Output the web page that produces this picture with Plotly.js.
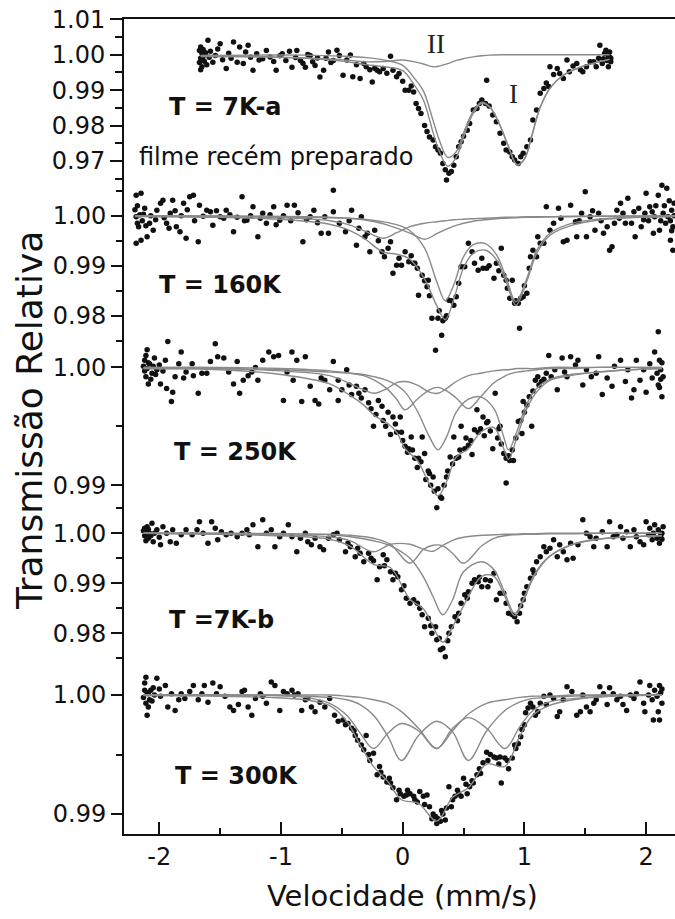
<!DOCTYPE html>
<html>
<head>
<meta charset="utf-8">
<script src="https://cdn.plot.ly/plotly-3.0.1.min.js"></script>
<style>
  html, body { margin: 0; padding: 0; background: #ffffff; }
  #chart { width: 675px; height: 919px; }
</style>
</head>
<body>
<div id="chart"></div>
<script>
// Mössbauer spectra of the film, stacked: each spectrum has its own
// transmission scale on the shared left axis. Points are [velocity, transmission].

// ---- T = 7K-a (freshly prepared film) ----
const points7Ka = [[-1.67,1.0012],[-1.67,0.9978],[-1.66,0.9958],[-1.66,1.0022],[-1.66,0.9990],[-1.65,1.0004],[-1.65,0.9966],[-1.64,0.9995],[-1.64,1.0015],[-1.63,0.9982],[-1.62,1.0006],[-1.61,0.9972],[-1.60,1.0041],[-1.59,0.9993],[-1.58,1.0010],[-1.56,0.9979],[-1.54,0.9998],[-1.52,1.0016],[-1.50,1.0031],[-1.48,0.9986],[-1.45,0.9961],[-1.43,1.0004],[-1.41,0.9990],[-1.39,1.0036],[-1.36,0.9979],[-1.34,1.0022],[-1.31,0.9975],[-1.29,1.0008],[-1.27,1.0027],[-1.25,0.9993],[-1.23,0.9956],[-1.20,1.0003],[-1.18,0.9985],[-1.15,0.9989],[-1.12,1.0012],[-1.09,0.9994],[-1.06,0.9981],[-1.04,0.9956],[-1.01,0.9997],[-0.99,1.0003],[-0.96,0.9984],[-0.93,1.0010],[-0.91,0.9965],[-0.88,0.9992],[-0.87,1.0012],[-0.84,0.9984],[-0.82,0.9976],[-0.80,0.9965],[-0.78,1.0001],[-0.76,0.9998],[-0.74,0.9980],[-0.72,0.9970],[-0.70,0.9991],[-0.68,0.9937],[-0.65,0.9956],[-0.63,0.9990],[-0.61,1.0008],[-0.59,0.9978],[-0.57,0.9984],[-0.54,1.0013],[-0.52,0.9998],[-0.49,0.9942],[-0.46,0.9985],[-0.43,0.9999],[-0.41,0.9938],[-0.38,0.9972],[-0.35,0.9933],[-0.32,0.9975],[-0.30,0.9966],[-0.27,0.9958],[-0.25,0.9923],[-0.23,0.9962],[-0.21,0.9956],[-0.19,0.9952],[-0.16,0.9961],[-0.13,0.9948],[-0.10,0.9996],[-0.08,0.9956],[-0.05,0.9938],[-0.03,0.9947],[0.00,0.9925],[0.02,0.9900],[0.05,0.9900],[0.07,0.9912],[0.09,0.9895],[0.11,0.9862],[0.13,0.9848],[0.15,0.9834],[0.18,0.9800],[0.20,0.9783],[0.22,0.9768],[0.25,0.9759],[0.27,0.9740],[0.29,0.9731],[0.31,0.9722],[0.33,0.9693],[0.35,0.9675],[0.36,0.9646],[0.38,0.9665],[0.40,0.9670],[0.42,0.9688],[0.44,0.9712],[0.46,0.9740],[0.48,0.9754],[0.50,0.9770],[0.53,0.9787],[0.55,0.9806],[0.58,0.9844],[0.61,0.9848],[0.63,0.9862],[0.65,0.9872],[0.68,0.9862],[0.69,0.9928],[0.71,0.9855],[0.74,0.9830],[0.77,0.9811],[0.80,0.9778],[0.83,0.9750],[0.85,0.9731],[0.88,0.9725],[0.90,0.9712],[0.92,0.9703],[0.95,0.9693],[0.97,0.9712],[0.99,0.9722],[1.02,0.9740],[1.05,0.9759],[1.07,0.9816],[1.10,0.9844],[1.13,0.9891],[1.16,0.9905],[1.18,0.9920],[1.20,0.9910],[1.21,0.9966],[1.24,0.9944],[1.27,0.9961],[1.29,0.9947],[1.32,0.9933],[1.35,0.9985],[1.37,0.9952],[1.40,0.9968],[1.43,0.9975],[1.46,0.9958],[1.48,0.9952],[1.51,0.9966],[1.54,0.9980],[1.57,0.9980],[1.59,0.9966],[1.61,0.9990],[1.62,1.0027],[1.64,0.9975],[1.65,0.9989],[1.66,1.0004],[1.67,1.0013],[1.68,0.9984],[1.69,0.9966],[1.69,0.9996],[1.70,0.9994],[1.70,1.0008],[1.71,0.9980],[1.71,0.9990]];
const fitVel7Ka     = [-1.66,-1.2,-0.8,-0.5,-0.3,-0.15,0,0.1,0.17,0.25,0.3,0.37,0.44,0.5,0.58,0.65,0.72,0.8,0.87,0.94,1.0,1.06,1.13,1.22,1.32,1.46,1.6,1.7];
const fitTotal7Ka   = [0.9995,0.9994,0.9990,0.9982,0.9972,0.9966,0.9955,0.9912,0.9872,0.9780,0.9728,0.9685,0.9710,0.9768,0.9835,0.9863,0.9850,0.9800,0.9740,0.9689,0.9705,0.9770,0.9852,0.9910,0.9942,0.9965,0.9979,0.9987];
const fitSiteI7Ka   = [0.9998,0.9999,0.9999,0.9996,0.9992,0.9985,0.9970,0.9932,0.9898,0.9814,0.9760,0.9710,0.9726,0.9779,0.9841,0.9866,0.9851,0.9800,0.9740,0.9689,0.9705,0.9770,0.9852,0.9910,0.9942,0.9965,0.9979,0.9987];
const fitSiteII7Ka  = [0.9997,0.9995,0.9991,0.9986,0.9980,0.9981,0.9985,0.9980,0.9974,0.9966,0.9968,0.9975,0.9984,0.9989,0.9994,0.9997,0.9999,1.0,1.0,1.0,1.0,1.0,1.0,1.0,1.0,1.0,1.0,1.0];

// ---- T = 160K ----
const points160 = [[-2.20,1.0012],[-2.19,1.0041],[-2.19,0.9998],[-2.19,0.9945],[-2.18,1.0020],[-2.18,0.9985],[-2.17,0.9978],[-2.16,1.0002],[-2.15,1.0045],[-2.15,0.9951],[-2.14,0.9990],[-2.13,1.0003],[-2.12,1.0015],[-2.11,0.9980],[-2.10,0.9958],[-2.08,0.9985],[-2.07,1.0000],[-2.05,0.9971],[-2.03,0.9992],[-2.02,1.0011],[-1.99,1.0025],[-1.97,1.0031],[-1.96,0.9996],[-1.94,0.9985],[-1.92,0.9975],[-1.91,1.0005],[-1.89,1.0031],[-1.87,1.0010],[-1.86,0.9978],[-1.83,0.9968],[-1.82,1.0000],[-1.80,1.0025],[-1.78,0.9955],[-1.77,1.0012],[-1.75,1.0038],[-1.72,1.0041],[-1.71,0.9990],[-1.68,0.9948],[-1.67,1.0021],[-1.64,0.9999],[-1.61,1.0011],[-1.58,1.0008],[-1.56,0.9981],[-1.53,1.0010],[-1.50,0.9998],[-1.47,0.9995],[-1.45,1.0011],[-1.42,1.0002],[-1.39,0.9968],[-1.36,0.9997],[-1.32,1.0038],[-1.30,0.9990],[-1.28,0.9991],[-1.25,1.0000],[-1.23,1.0018],[-1.19,0.9958],[-1.17,0.9995],[-1.15,1.0005],[-1.12,0.9985],[-1.09,1.0002],[-1.06,1.0018],[-1.04,0.9982],[-1.01,0.9991],[-0.98,1.0000],[-0.95,1.0021],[-0.92,0.9990],[-0.89,1.0021],[-0.86,1.0006],[-0.82,0.9948],[-0.79,0.9992],[-0.76,0.9998],[-0.73,1.0011],[-0.70,0.9986],[-0.67,0.9965],[-0.64,0.9998],[-0.61,0.9965],[-0.57,1.0051],[-0.57,1.0008],[-0.52,0.9985],[-0.47,0.9968],[-0.44,0.9990],[-0.42,1.0011],[-0.38,0.9941],[-0.36,0.9975],[-0.34,0.9998],[-0.31,0.9958],[-0.29,0.9965],[-0.27,0.9928],[-0.23,0.9971],[-0.20,0.9950],[-0.17,0.9928],[-0.15,0.9918],[-0.12,0.9935],[-0.10,0.9948],[-0.08,0.9885],[-0.05,0.9901],[-0.03,0.9915],[-0.01,0.9901],[0.02,0.9928],[0.05,0.9908],[0.07,0.9920],[0.09,0.9905],[0.10,0.9905],[0.12,0.9895],[0.13,0.9841],[0.16,0.9881],[0.18,0.9870],[0.20,0.9858],[0.21,0.9871],[0.22,0.9840],[0.24,0.9795],[0.27,0.9731],[0.29,0.9795],[0.30,0.9810],[0.32,0.9761],[0.33,0.9790],[0.35,0.9795],[0.36,0.9800],[0.38,0.9831],[0.40,0.9830],[0.42,0.9821],[0.44,0.9838],[0.46,0.9865],[0.48,0.9898],[0.51,0.9898],[0.54,0.9945],[0.57,0.9928],[0.59,0.9905],[0.62,0.9891],[0.65,0.9915],[0.66,0.9895],[0.69,0.9895],[0.71,0.9900],[0.75,0.9875],[0.77,0.9905],[0.79,0.9890],[0.81,0.9935],[0.83,0.9881],[0.85,0.9871],[0.86,0.9855],[0.88,0.9835],[0.90,0.9871],[0.92,0.9825],[0.93,0.9830],[0.95,0.9825],[0.96,0.9775],[0.97,0.9835],[0.99,0.9838],[1.00,0.9860],[1.02,0.9845],[1.04,0.9895],[1.05,0.9918],[1.07,0.9931],[1.10,0.9918],[1.11,0.9958],[1.13,0.9945],[1.16,0.9945],[1.18,1.0018],[1.21,0.9971],[1.24,0.9985],[1.28,1.0015],[1.30,0.9995],[1.32,0.9948],[1.35,0.9951],[1.38,1.0021],[1.42,0.9988],[1.43,0.9958],[1.45,0.9990],[1.47,1.0005],[1.50,1.0048],[1.51,0.9958],[1.54,0.9998],[1.56,1.0010],[1.58,0.9971],[1.61,1.0005],[1.63,0.9990],[1.65,0.9965],[1.68,0.9978],[1.70,0.9931],[1.72,0.9938],[1.74,0.9985],[1.76,1.0011],[1.78,0.9995],[1.79,1.0025],[1.81,1.0005],[1.83,0.9985],[1.85,1.0035],[1.88,0.9985],[1.90,1.0008],[1.91,0.9958],[1.94,1.0015],[1.96,0.9978],[1.98,0.9992],[1.99,1.0005],[2.00,1.0045],[2.02,0.9990],[2.03,1.0018],[2.05,1.0008],[2.06,0.9965],[2.07,0.9998],[2.08,1.0020],[2.10,1.0041],[2.10,0.9768],[2.11,0.9971],[2.12,0.9990],[2.13,1.0061],[2.14,1.0005],[2.15,1.0020],[2.16,0.9985],[2.17,1.0055],[2.18,0.9998],[2.19,1.0030],[2.20,0.9951],[2.20,0.9990],[2.21,1.0011],[2.21,0.9970],[2.22,0.9931],[2.22,0.9978],[2.23,1.0000],[2.23,1.0025]];
const fitVel160     = [-2.2,-1.6,-1.1,-0.8,-0.6,-0.46,-0.32,-0.16,-0.05,0.06,0.18,0.28,0.35,0.42,0.50,0.58,0.68,0.77,0.85,0.93,1.02,1.10,1.21,1.38,1.6,1.87,2.24];
const fitTotal160   = [0.99985,0.9997,0.9994,0.9989,0.9983,0.9973,0.9955,0.9927,0.9923,0.9913,0.9873,0.9820,0.9792,0.9833,0.9896,0.9925,0.9931,0.9912,0.9868,0.9821,0.9869,0.9924,0.9961,0.9980,0.9991,0.9996,0.9999];
const fitSiteI160   = [0.99995,0.9999,0.9998,0.9997,0.9996,0.9995,0.9993,0.9988,0.9982,0.9970,0.9935,0.9868,0.9830,0.9862,0.9918,0.9942,0.9944,0.9922,0.9876,0.9828,0.9875,0.9930,0.9965,0.9984,0.9993,0.9997,0.99985];
const fitSiteA160   = [0.99995,0.9999,0.9997,0.9994,0.9990,0.9983,0.9970,0.9955,0.9966,0.9978,0.9985,0.9988,0.9990,0.9992,0.9993,0.9994,0.9995,0.9996,0.9997,0.9997,0.9998,0.9998,0.9998,0.9999,0.9999,0.9999,1.0];
const fitSiteB160   = [1.0,0.99995,0.9999,0.9998,0.9997,0.9995,0.9992,0.9984,0.9975,0.9965,0.9953,0.9964,0.9972,0.9979,0.9985,0.9989,0.9992,0.9994,0.9995,0.9996,0.9997,0.9997,0.9998,0.9998,0.9999,0.99995,1.0];

// ---- T = 250K ----
const points250 = [[-2.13,1.0001],[-2.12,0.9997],[-2.12,1.0006],[-2.11,0.9992],[-2.11,1.0010],[-2.10,1.0015],[-2.10,0.9999],[-2.09,0.9986],[-2.09,1.0004],[-2.08,1.0003],[-2.07,0.9990],[-2.06,0.9995],[-2.05,1.0001],[-2.04,1.0008],[-2.03,0.9994],[-2.02,0.9998],[-2.00,1.0002],[-1.99,0.9986],[-1.97,0.9997],[-1.95,1.0006],[-1.94,0.9982],[-1.93,1.0022],[-1.90,0.9971],[-1.89,0.9979],[-1.87,0.9992],[-1.84,1.0003],[-1.82,1.0013],[-1.80,0.9991],[-1.78,0.9996],[-1.73,1.0003],[-1.72,0.9993],[-1.68,0.9978],[-1.65,0.9995],[-1.61,0.9995],[-1.58,1.0005],[-1.54,1.0020],[-1.52,1.0009],[-1.47,1.0008],[-1.43,0.9996],[-1.39,0.9986],[-1.36,1.0005],[-1.34,0.9978],[-1.31,0.9989],[-1.27,0.9993],[-1.24,0.9996],[-1.21,1.0000],[-1.19,0.9989],[-1.15,1.0006],[-1.10,1.0013],[-1.06,1.0009],[-1.02,1.0010],[-0.98,0.9972],[-0.95,0.9996],[-0.91,1.0013],[-0.90,0.9989],[-0.87,1.0006],[-0.83,0.9971],[-0.80,1.0009],[-0.76,0.9984],[-0.72,0.9972],[-0.69,0.9969],[-0.67,0.9991],[-0.64,0.9989],[-0.60,0.9981],[-0.57,1.0005],[-0.53,0.9972],[-0.53,0.9989],[-0.50,0.9981],[-0.46,0.9998],[-0.44,0.9985],[-0.42,0.9977],[-0.38,0.9984],[-0.36,0.9978],[-0.34,0.9974],[-0.31,0.9981],[-0.28,0.9970],[-0.26,0.9965],[-0.24,0.9950],[-0.22,0.9960],[-0.20,0.9972],[-0.17,0.9967],[-0.16,0.9955],[-0.14,0.9950],[-0.12,0.9962],[-0.10,0.9943],[-0.08,0.9958],[-0.06,0.9952],[-0.05,0.9945],[-0.02,0.9958],[-0.01,0.9945],[0.00,0.9938],[0.02,0.9933],[0.04,0.9928],[0.05,0.9931],[0.07,0.9941],[0.08,0.9930],[0.10,0.9923],[0.12,0.9915],[0.13,0.9923],[0.15,0.9920],[0.16,0.9941],[0.18,0.9927],[0.19,0.9905],[0.21,0.9912],[0.22,0.9910],[0.23,0.9900],[0.25,0.9907],[0.26,0.9895],[0.28,0.9881],[0.29,0.9897],[0.31,0.9890],[0.32,0.9889],[0.34,0.9900],[0.36,0.9907],[0.37,0.9912],[0.39,0.9924],[0.41,0.9918],[0.42,0.9941],[0.44,0.9923],[0.46,0.9924],[0.47,0.9930],[0.48,0.9950],[0.51,0.9931],[0.52,0.9940],[0.54,0.9934],[0.56,0.9938],[0.57,0.9926],[0.59,0.9947],[0.61,0.9964],[0.62,0.9945],[0.64,0.9948],[0.66,0.9958],[0.67,0.9942],[0.69,0.9953],[0.70,0.9954],[0.72,0.9946],[0.74,0.9931],[0.76,0.9978],[0.78,0.9940],[0.79,0.9948],[0.80,0.9950],[0.81,0.9935],[0.83,0.9927],[0.85,0.9923],[0.85,0.9902],[0.87,0.9925],[0.88,0.9921],[0.90,0.9930],[0.91,0.9921],[0.93,0.9940],[0.95,0.9954],[0.97,0.9955],[0.98,0.9944],[0.99,0.9971],[1.00,0.9962],[1.02,0.9968],[1.04,0.9975],[1.06,0.9950],[1.07,0.9980],[1.09,0.9989],[1.11,0.9992],[1.12,0.9985],[1.14,0.9988],[1.16,0.9990],[1.18,0.9995],[1.20,1.0010],[1.22,0.9992],[1.25,0.9998],[1.27,0.9981],[1.31,1.0008],[1.33,0.9996],[1.35,0.9992],[1.38,1.0009],[1.42,1.0002],[1.44,1.0006],[1.48,0.9985],[1.51,0.9998],[1.55,0.9992],[1.59,0.9995],[1.61,1.0009],[1.64,0.9977],[1.68,0.9991],[1.72,0.9984],[1.74,1.0001],[1.79,1.0006],[1.83,0.9988],[1.85,0.9998],[1.88,0.9974],[1.90,0.9981],[1.92,1.0006],[1.95,0.9989],[1.98,0.9998],[2.00,0.9979],[2.03,1.0003],[2.05,0.9991],[2.07,1.0013],[2.09,0.9995],[2.10,0.9985],[2.11,1.0006],[2.11,0.9983],[2.12,0.9998],[2.12,0.9990],[2.13,0.9975],[2.13,1.0004],[2.14,0.9992]];
const fitVel250      = [-2.13,-1.5,-1.0,-0.6,-0.43,-0.32,-0.23,-0.13,-0.05,0.02,0.12,0.22,0.29,0.36,0.44,0.54,0.64,0.75,0.83,0.87,0.94,1.02,1.10,1.21,1.38,1.6,1.87,2.13];
const fitTotal250    = [0.9999,0.9998,0.9994,0.9986,0.9976,0.9968,0.9959,0.9953,0.9945,0.9931,0.9921,0.9901,0.9891,0.9903,0.9924,0.9931,0.9945,0.9949,0.9931,0.9922,0.9941,0.9965,0.9979,0.9989,0.9993,0.9996,0.9998,0.9999];
const fitSiteI250    = [0.9999,0.9999,0.9998,0.9996,0.9995,0.9994,0.9992,0.9989,0.9985,0.9979,0.9963,0.9941,0.9930,0.9941,0.9962,0.9973,0.9975,0.9965,0.9941,0.9930,0.9946,0.9969,0.9982,0.9990,0.9994,0.9996,0.9998,0.9999];
const fitSiteII250   = [1.0,1.0,0.9999,0.9997,0.9995,0.9993,0.9989,0.9982,0.9973,0.9964,0.9973,0.9981,0.9983,0.9980,0.9974,0.9965,0.9975,0.9987,0.9992,0.9994,0.9996,0.9997,0.9998,0.9999,0.9999,1.0,1.0,1.0];
const fitSiteIII250  = [1.0,0.9999,0.9997,0.9993,0.9986,0.9981,0.9978,0.9982,0.9987,0.9988,0.9985,0.9979,0.9978,0.9982,0.9988,0.9993,0.9995,0.9997,0.9998,0.9998,0.9999,0.9999,0.9999,1.0,1.0,1.0,1.0,1.0];

// ---- T = 7K-b ----
const points7Kb = [[-2.13,1.0005],[-2.12,0.9995],[-2.12,1.0010],[-2.11,0.9985],[-2.11,1.0002],[-2.10,1.0013],[-2.10,0.9993],[-2.09,0.9990],[-2.09,1.0008],[-2.08,1.0000],[-2.07,0.9995],[-2.06,1.0020],[-2.05,0.9983],[-2.04,1.0000],[-2.02,1.0007],[-2.00,0.9992],[-1.99,0.9977],[-1.97,1.0013],[-1.94,1.0000],[-1.91,0.9983],[-1.89,1.0007],[-1.86,0.9980],[-1.82,0.9997],[-1.78,1.0007],[-1.73,0.9997],[-1.69,1.0007],[-1.67,1.0023],[-1.64,1.0000],[-1.60,0.9980],[-1.57,1.0023],[-1.54,1.0010],[-1.52,0.9987],[-1.49,1.0003],[-1.45,0.9997],[-1.41,1.0000],[-1.36,0.9993],[-1.32,1.0000],[-1.28,1.0007],[-1.26,0.9997],[-1.23,1.0017],[-1.19,0.9973],[-1.15,1.0027],[-1.12,1.0000],[-1.08,1.0007],[-1.05,0.9973],[-1.01,0.9993],[-0.98,1.0000],[-0.94,1.0017],[-0.91,0.9993],[-0.87,0.9963],[-0.84,0.9990],[-0.80,1.0000],[-0.78,0.9983],[-0.75,0.9977],[-0.72,0.9990],[-0.68,0.9973],[-0.65,0.9967],[-0.61,0.9990],[-0.57,0.9997],[-0.54,1.0000],[-0.52,0.9987],[-0.47,0.9963],[-0.45,0.9980],[-0.43,0.9973],[-0.39,0.9953],[-0.37,0.9970],[-0.35,0.9960],[-0.32,0.9943],[-0.28,0.9960],[-0.26,0.9950],[-0.24,0.9945],[-0.21,0.9907],[-0.19,0.9933],[-0.16,0.9957],[-0.15,0.9935],[-0.13,0.9947],[-0.10,0.9923],[-0.08,0.9907],[-0.06,0.9920],[-0.04,0.9913],[-0.01,0.9887],[0.01,0.9895],[0.03,0.9870],[0.06,0.9860],[0.09,0.9867],[0.12,0.9860],[0.14,0.9850],[0.16,0.9837],[0.18,0.9813],[0.21,0.9830],[0.23,0.9815],[0.24,0.9800],[0.27,0.9813],[0.28,0.9787],[0.30,0.9790],[0.31,0.9767],[0.33,0.9770],[0.35,0.9753],[0.37,0.9785],[0.38,0.9800],[0.40,0.9813],[0.43,0.9833],[0.45,0.9825],[0.46,0.9840],[0.48,0.9860],[0.51,0.9877],[0.53,0.9870],[0.54,0.9883],[0.57,0.9900],[0.59,0.9907],[0.62,0.9903],[0.63,0.9912],[0.65,0.9893],[0.68,0.9907],[0.70,0.9893],[0.72,0.9905],[0.75,0.9920],[0.77,0.9867],[0.80,0.9880],[0.83,0.9880],[0.85,0.9860],[0.87,0.9840],[0.90,0.9837],[0.92,0.9833],[0.94,0.9823],[0.96,0.9840],[0.97,0.9855],[0.99,0.9867],[1.00,0.9880],[1.02,0.9893],[1.05,0.9910],[1.07,0.9927],[1.08,0.9920],[1.10,0.9943],[1.13,0.9953],[1.16,0.9973],[1.18,0.9963],[1.21,0.9970],[1.24,0.9987],[1.27,0.9953],[1.29,0.9977],[1.32,0.9963],[1.35,0.9947],[1.38,0.9980],[1.40,0.9950],[1.44,0.9977],[1.48,1.0027],[1.51,1.0000],[1.54,0.9993],[1.57,0.9973],[1.59,0.9990],[1.64,1.0003],[1.68,0.9973],[1.70,1.0023],[1.73,0.9993],[1.76,0.9997],[1.79,1.0013],[1.81,0.9990],[1.84,1.0003],[1.87,0.9973],[1.90,1.0007],[1.92,0.9993],[1.95,0.9983],[1.98,0.9977],[2.00,1.0023],[2.02,0.9997],[2.03,1.0010],[2.05,0.9987],[2.06,1.0000],[2.07,1.0017],[2.09,0.9990],[2.10,1.0007],[2.11,0.9980],[2.12,0.9995],[2.13,1.0000],[2.13,0.9988],[2.14,1.0013]];
const fitVel7Kb      = [-2.13,-1.5,-1.0,-0.6,-0.43,-0.24,-0.1,0.06,0.17,0.25,0.33,0.41,0.50,0.65,0.75,0.84,0.92,1.0,1.08,1.2,1.38,1.6,1.87,2.13];
const fitTotal7Kb    = [1.0,0.9998,0.9995,0.9988,0.9974,0.9938,0.9931,0.9868,0.9849,0.9813,0.9782,0.9813,0.9855,0.9914,0.9914,0.9873,0.9835,0.9870,0.9914,0.9952,0.9976,0.9988,0.9993,0.9995];
const fitSiteI7Kb    = [1.0,0.99995,0.9999,0.9997,0.9993,0.9985,0.9975,0.9950,0.9913,0.9873,0.9837,0.9867,0.9923,0.9943,0.9927,0.9880,0.9840,0.9873,0.9917,0.9953,0.9977,0.9988,0.9993,0.9995];
const fitSiteII7Kb   = [1.0,1.0,0.99995,0.9998,0.9996,0.9990,0.9978,0.9940,0.9968,0.9976,0.9975,0.9960,0.9940,0.9975,0.9990,0.9995,0.9997,0.9998,0.9998,0.9999,0.9999,1.0,1.0,1.0];
const fitSiteIII7Kb  = [1.0,0.9999,0.9997,0.9993,0.9985,0.9963,0.9978,0.9978,0.9968,0.9964,0.9976,0.9986,0.9992,0.9996,0.9997,0.9998,0.9998,0.9999,0.9999,1.0,1.0,1.0,1.0,1.0];

// ---- T = 300K ----
const points300 = [[-2.13,0.9998],[-2.12,1.0010],[-2.12,1.0004],[-2.11,0.9993],[-2.11,1.0015],[-2.10,0.9983],[-2.10,1.0002],[-2.09,1.0001],[-2.09,0.9990],[-2.08,0.9996],[-2.07,1.0004],[-2.06,0.9995],[-2.05,1.0006],[-2.04,1.0000],[-2.02,1.0014],[-2.00,1.0005],[-1.99,0.9999],[-1.95,1.0008],[-1.93,0.9990],[-1.90,1.0001],[-1.87,0.9987],[-1.84,0.9996],[-1.82,1.0001],[-1.79,0.9997],[-1.75,1.0003],[-1.72,1.0008],[-1.68,0.9996],[-1.65,1.0001],[-1.63,1.0008],[-1.60,0.9994],[-1.56,1.0010],[-1.53,1.0001],[-1.50,1.0007],[-1.46,0.9999],[-1.42,0.9990],[-1.39,0.9987],[-1.35,0.9992],[-1.32,1.0003],[-1.30,1.0004],[-1.27,0.9990],[-1.24,0.9983],[-1.21,0.9997],[-1.17,1.0001],[-1.15,0.9999],[-1.12,0.9993],[-1.08,1.0011],[-1.05,1.0008],[-1.01,0.9987],[-0.98,1.0003],[-0.95,1.0001],[-0.91,1.0004],[-0.89,1.0000],[-0.86,1.0001],[-0.83,0.9987],[-0.80,0.9996],[-0.78,0.9997],[-0.75,0.9990],[-0.72,0.9986],[-0.68,0.9994],[-0.64,0.9990],[-0.60,0.9997],[-0.56,0.9983],[-0.53,0.9978],[-0.49,0.9979],[-0.47,0.9975],[-0.45,0.9976],[-0.42,0.9972],[-0.40,0.9970],[-0.39,0.9966],[-0.37,0.9962],[-0.34,0.9958],[-0.32,0.9954],[-0.30,0.9966],[-0.28,0.9950],[-0.27,0.9945],[-0.24,0.9951],[-0.21,0.9933],[-0.19,0.9940],[-0.18,0.9935],[-0.16,0.9931],[-0.13,0.9927],[-0.11,0.9930],[-0.10,0.9926],[-0.08,0.9922],[-0.05,0.9912],[-0.03,0.9920],[-0.02,0.9917],[0.01,0.9915],[0.03,0.9916],[0.04,0.9920],[0.06,0.9917],[0.09,0.9915],[0.10,0.9912],[0.12,0.9910],[0.14,0.9919],[0.17,0.9915],[0.18,0.9908],[0.20,0.9916],[0.22,0.9906],[0.24,0.9896],[0.25,0.9900],[0.27,0.9898],[0.28,0.9892],[0.29,0.9896],[0.31,0.9894],[0.32,0.9903],[0.33,0.9900],[0.35,0.9895],[0.36,0.9905],[0.38,0.9923],[0.40,0.9906],[0.41,0.9912],[0.43,0.9915],[0.45,0.9920],[0.46,0.9917],[0.48,0.9915],[0.50,0.9930],[0.52,0.9925],[0.53,0.9917],[0.55,0.9923],[0.57,0.9928],[0.58,0.9926],[0.61,0.9933],[0.63,0.9938],[0.64,0.9934],[0.66,0.9943],[0.69,0.9952],[0.70,0.9945],[0.72,0.9950],[0.75,0.9948],[0.77,0.9947],[0.79,0.9942],[0.80,0.9948],[0.81,0.9926],[0.84,0.9947],[0.86,0.9945],[0.87,0.9938],[0.90,0.9947],[0.92,0.9958],[0.93,0.9955],[0.95,0.9959],[0.97,0.9965],[0.98,0.9971],[1.00,0.9975],[1.01,0.9985],[1.03,0.9989],[1.05,0.9993],[1.07,0.9990],[1.09,0.9983],[1.11,0.9986],[1.13,0.9993],[1.16,0.9999],[1.18,0.9992],[1.21,1.0000],[1.24,0.9997],[1.27,0.9982],[1.29,0.9986],[1.32,0.9996],[1.35,1.0007],[1.39,1.0003],[1.43,0.9983],[1.46,0.9986],[1.48,1.0000],[1.51,0.9990],[1.54,0.9986],[1.57,0.9993],[1.59,0.9996],[1.62,1.0007],[1.65,1.0001],[1.68,0.9992],[1.70,1.0006],[1.73,1.0001],[1.76,0.9996],[1.79,0.9999],[1.81,0.9992],[1.84,0.9987],[1.87,1.0000],[1.90,0.9997],[1.92,1.0001],[1.95,1.0011],[1.98,0.9993],[1.99,0.9986],[2.02,1.0000],[2.03,1.0008],[2.05,0.9996],[2.06,0.9979],[2.07,1.0004],[2.09,0.9999],[2.10,0.9986],[2.11,1.0008],[2.11,0.9979],[2.12,1.0002],[2.13,0.9993],[2.13,1.0005]];
const fitVel300      = [-2.13,-1.5,-1.1,-0.8,-0.6,-0.46,-0.35,-0.24,-0.12,-0.01,0.13,0.28,0.41,0.54,0.69,0.84,0.96,1.06,1.2,1.4,1.7,2.13];
const fitTotal300    = [0.99995,0.9999,0.9998,0.9996,0.9991,0.9978,0.9958,0.9940,0.9927,0.9912,0.9909,0.9894,0.9914,0.9922,0.9942,0.9940,0.9965,0.9982,0.9991,0.9996,0.9999,1.0];
const fitSiteA300    = [1.0,1.0,0.99995,0.9998,0.9993,0.9983,0.9968,0.9955,0.9968,0.9976,0.9970,0.9955,0.9970,0.9984,0.9993,0.9996,0.9998,0.9999,0.9999,1.0,1.0,1.0];
const fitSiteB300    = [1.0,1.0,1.0,0.9999,0.9998,0.9996,0.9992,0.9983,0.9965,0.9945,0.9966,0.9978,0.9969,0.9945,0.9970,0.9987,0.9994,0.9997,0.9998,0.9999,1.0,1.0];
const fitSiteC300    = [1.0,1.0,1.0,1.0,1.0,0.9999,0.9998,0.9996,0.9993,0.9986,0.9972,0.9955,0.9972,0.9981,0.9972,0.9955,0.9973,0.9986,0.9994,0.9997,0.9999,1.0];

// Tick values of each stacked scale
const ticks7Ka  = [1.01, 1.00, 0.99, 0.98, 0.97];
const minor7Ka  = [1.005, 0.995, 0.985, 0.975, 0.965];
const ticks160  = [1.00, 0.99, 0.98];
const minor160  = [1.005, 0.995, 0.985, 0.975];
const ticks250  = [1.00, 0.99];
const minor250  = [0.995];
const ticks7Kb  = [1.00, 0.99, 0.98];
const minor7Kb  = [1.005, 0.995, 0.985, 0.975];
const ticks300  = [1.00, 0.99];
const minor300  = [0.995];
const velTicks  = [-2, -1, 0, 1, 2];
const velLabels = ['-2', '-1', '0', '1', '2'];
const velMinor  = [-1.5, -0.5, 0.5, 1.5];

const INK = '#111111';
const FIT = '#8a8a8a';
const FONT = 'DejaVu Sans, Arial, sans-serif';

function dots(points, yaxis) {
  return {
    type: 'scatter', mode: 'markers', yaxis: yaxis,
    x: points.map(p => p[0]), y: points.map(p => p[1]),
    marker: { size: 5.5, color: INK },
    hoverinfo: 'skip', showlegend: false
  };
}
function curve(xs, ys, yaxis) {
  return {
    type: 'scatter', mode: 'lines', yaxis: yaxis, x: xs, y: ys,
    line: { color: FIT, width: 1.4, shape: 'spline', smoothing: 1 },
    hoverinfo: 'skip', showlegend: false
  };
}

const traces = [
  dots(points7Ka, 'y'),
  curve(fitVel7Ka, fitSiteII7Ka, 'y'),
  curve(fitVel7Ka, fitSiteI7Ka, 'y'),
  curve(fitVel7Ka, fitTotal7Ka, 'y'),

  dots(points160, 'y2'),
  curve(fitVel160, fitSiteA160, 'y2'),
  curve(fitVel160, fitSiteB160, 'y2'),
  curve(fitVel160, fitSiteI160, 'y2'),
  curve(fitVel160, fitTotal160, 'y2'),

  dots(points250, 'y3'),
  curve(fitVel250, fitSiteIII250, 'y3'),
  curve(fitVel250, fitSiteII250, 'y3'),
  curve(fitVel250, fitSiteI250, 'y3'),
  curve(fitVel250, fitTotal250, 'y3'),

  dots(points7Kb, 'y4'),
  curve(fitVel7Kb, fitSiteIII7Kb, 'y4'),
  curve(fitVel7Kb, fitSiteII7Kb, 'y4'),
  curve(fitVel7Kb, fitSiteI7Kb, 'y4'),
  curve(fitVel7Kb, fitTotal7Kb, 'y4'),

  dots(points300, 'y5'),
  curve(fitVel300, fitSiteA300, 'y5'),
  curve(fitVel300, fitSiteB300, 'y5'),
  curve(fitVel300, fitSiteC300, 'y5'),
  curve(fitVel300, fitTotal300, 'y5')
];

function stackAxis(range, major, minor, extra) {
  return Object.assign({
    anchor: 'x', side: 'left', range: range, fixedrange: true,
    showgrid: false, zeroline: false, showline: false,
    tickmode: 'array', tickvals: major, tickformat: '.2f',
    ticks: 'outside', ticklen: 12, tickwidth: 2, tickcolor: INK,
    tickfont: { family: FONT, size: 24, color: INK },
    minor: { tickmode: 'array', tickvals: minor, ticks: 'outside', ticklen: 7, tickwidth: 2, tickcolor: INK, showgrid: false }
  }, extra || {});
}

const bold = { family: FONT, size: 24, color: INK };
const layout = {
  width: 675, height: 919,
  margin: { l: 124, r: 0, t: 19, b: 85 },
  paper_bgcolor: '#ffffff', plot_bgcolor: '#ffffff',
  showlegend: false,
  xaxis: {
    range: [-2.29, 2.2375], fixedrange: true,
    tickmode: 'array', tickvals: velTicks, ticktext: velLabels,
    ticks: 'inside', ticklen: 12, tickwidth: 2, tickcolor: INK,
    showline: true, linewidth: 2, linecolor: INK, mirror: true,
    showgrid: false, zeroline: false,
    tickfont: { family: FONT, size: 24, color: INK },
    minor: { tickmode: 'array', tickvals: velMinor, ticks: 'inside', ticklen: 6, tickwidth: 2, tickcolor: INK, showgrid: false }
  },
  yaxis:  stackAxis([0.7799, 1.0101], ticks7Ka, minor7Ka, { showline: true, linewidth: 2, linecolor: INK }),
  yaxis2: stackAxis([0.87634, 1.03934], ticks160, minor160, { overlaying: 'y' }),
  yaxis3: stackAxis([0.96042, 1.02955], ticks250, minor250, { overlaying: 'y' }),
  yaxis4: stackAxis([0.93986, 1.10286], ticks7Kb, minor7Kb, { overlaying: 'y' }),
  yaxis5: stackAxis([0.98832, 1.05681], ticks300, minor300, { overlaying: 'y' }),
  annotations: [
    { text: '<b>T = 7K-a</b>', xref: 'x', yref: 'y', x: -1.937, y: 0.98515, xanchor: 'left', yanchor: 'middle', showarrow: false, font: bold },
    { text: 'filme recém preparado', xref: 'x', yref: 'y', x: -2.183, y: 0.97103, xanchor: 'left', yanchor: 'middle', showarrow: false, font: { family: FONT, size: 24, color: INK } },
    { text: 'II', xref: 'x', yref: 'y', x: 0.272, y: 1.00293, xanchor: 'center', yanchor: 'middle', showarrow: false, font: { family: 'Liberation Serif, Times New Roman, serif', size: 27, color: '#222' } },
    { text: 'I', xref: 'x', yref: 'y', x: 0.909, y: 0.98902, xanchor: 'center', yanchor: 'middle', showarrow: false, font: { family: 'Liberation Serif, Times New Roman, serif', size: 27, color: '#222' } },
    { text: '<b>T = 160K</b>', xref: 'x', yref: 'y2', x: -2.021, y: 0.98614, xanchor: 'left', yanchor: 'middle', showarrow: false, font: bold },
    { text: '<b>T = 250K</b>', xref: 'x', yref: 'y3', x: -1.898, y: 0.99285, xanchor: 'left', yanchor: 'middle', showarrow: false, font: bold },
    { text: '<b>T =7K-b</b>', xref: 'x', yref: 'y4', x: -1.939, y: 0.98266, xanchor: 'left', yanchor: 'middle', showarrow: false, font: bold },
    { text: '<b>T = 300K</b>', xref: 'x', yref: 'y5', x: -1.885, y: 0.99322, xanchor: 'left', yanchor: 'middle', showarrow: false, font: bold },
    { text: 'Transmissão Relativa', xref: 'paper', yref: 'paper', x: -0.1706, y: 0.508, xanchor: 'center', yanchor: 'middle', textangle: -90, showarrow: false, font: { family: FONT, size: 36, color: INK } },
    { text: 'Velocidade (mm/s)', xref: 'x', yref: 'paper', x: 0, y: -0.076, xanchor: 'center', yanchor: 'middle', showarrow: false, font: { family: FONT, size: 29, color: INK } }
  ]
};

Plotly.newPlot('chart', traces, layout, { displayModeBar: false, staticPlot: true });
</script>
</body>
</html>
